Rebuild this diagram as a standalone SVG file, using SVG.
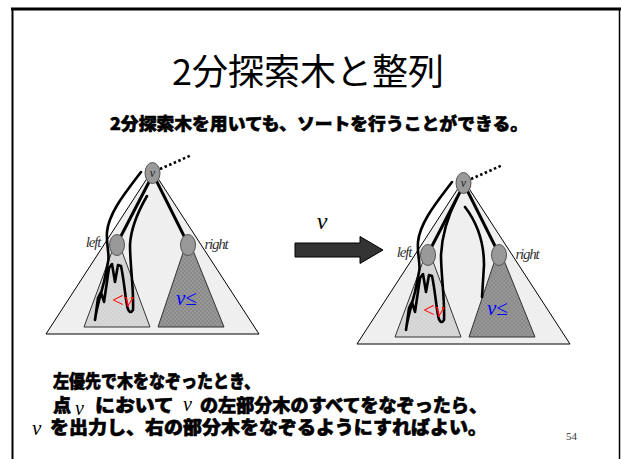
<svg xmlns="http://www.w3.org/2000/svg" width="621" height="459" viewBox="0 0 621 459">
<defs>
<pattern id="chk" width="4" height="4" patternUnits="userSpaceOnUse"><rect width="4" height="4" fill="#8a8a8a"/><rect width="2" height="2" fill="#979797"/><rect x="2" y="2" width="2" height="2" fill="#979797"/></pattern>
<pattern id="chkL" width="4" height="4" patternUnits="userSpaceOnUse"><rect width="4" height="4" fill="#d2d2d2"/><rect width="2" height="2" fill="#d8d8d8"/><rect x="2" y="2" width="2" height="2" fill="#d8d8d8"/></pattern>
<style>
.big{fill:#efefef;stroke:#000;stroke-width:1}
.subL{fill:url(#chkL);stroke:#333;stroke-width:1}
.subR{fill:url(#chk);stroke:#333;stroke-width:1}
.node{fill:#999;stroke:#555;stroke-width:1}
.edge{fill:none;stroke:#000;stroke-width:3;stroke-linecap:round}
.trace{fill:none;stroke:#000;stroke-width:2.6;stroke-linejoin:round;stroke-linecap:round}
.dot{fill:none;stroke:#000;stroke-width:2.5;stroke-dasharray:2.5,2.5}
.math{font-family:"Liberation Serif",serif;font-style:italic}
.lbl{font-family:"Liberation Serif",serif;font-style:italic;font-size:15px;fill:#333;letter-spacing:-1.2px}
.jp{font-family:"Noto Sans CJK JP",sans-serif;font-weight:900;fill:#000;stroke:#000;stroke-width:0.6}
</style>
</defs>
<rect width="621" height="459" fill="#fff"/>
<g id="frame" fill="none" stroke="#000">
<line x1="11" y1="9" x2="621" y2="9" stroke-width="3"/>
<line x1="12.5" y1="8" x2="12.5" y2="459" stroke-width="2"/>
<line x1="619.5" y1="8" x2="619.5" y2="459" stroke-width="1.5"/>
</g>
<text x="308" y="85" font-family="'Noto Sans CJK JP',sans-serif" font-size="36" text-anchor="middle" fill="#000">2分探索木と整列</text>
<text class="jp" x="319" y="130" font-size="17" text-anchor="middle" textLength="418" lengthAdjust="spacingAndGlyphs">2分探索木を用いても、ソートを行うことができる。</text>

<g id="tree-before">
<path class="big" d="M152.5,170 L46,334 L259,334 Z"/>
<path class="subL" d="M117,238 L84,327 L150,327 Z"/>
<path class="subR" d="M188,238 L158,327 L224,327 Z"/>
<g id="traversal-1">
<line class="edge" x1="149" y1="182" x2="121" y2="236"/>
<line class="edge" x1="157" y1="182" x2="184" y2="236"/>
<line class="dot" x1="160" y1="169" x2="192" y2="155"/>
<path class="trace" d="M141,172 C126,192 109,212 107,232 C106,245 110,255 108,262 L104,282 C100,297 96,310 95,320 L98,298 L101,292 L104,302 L109,268 L112,264 L115,282 L118,265 L121,266 C124,280 125,295 127,305 C128,312 131,314 133,310 C134,290 130,265 130,245 C131,225 140,208 147,196"/>
</g>
<g id="node-v1"><ellipse class="node" cx="152.5" cy="173" rx="7.5" ry="10.5"/><text class="math" x="152.5" y="177" font-size="12" text-anchor="middle" fill="#222">v</text></g>
<g id="node-left1"><ellipse class="node" cx="117" cy="245" rx="7.5" ry="10.5"/><text class="lbl" x="93" y="247" text-anchor="middle">left</text></g>
<g id="node-right1"><ellipse class="node" cx="188" cy="245" rx="7.5" ry="10.5"/><text class="lbl" x="216" y="249" text-anchor="middle">right</text></g>
<text x="112" y="307" font-family="'Liberation Serif',serif" font-size="21" fill="#f00">&lt;<tspan font-style="italic">v</tspan></text>
<text x="176" y="305" font-family="'Liberation Serif',serif" font-size="21" fill="#00f"><tspan font-style="italic">v</tspan>≤</text>
</g>

<g id="arrow">
<path d="M295,243 L360,243 L360,236.5 L383,250 L360,263.5 L360,257 L295,257 Z" fill="#333" stroke="#000" stroke-width="1"/>
<text class="math" x="322" y="229" font-size="24" text-anchor="middle" fill="#000">v</text>
</g>

<g id="tree-after" transform="translate(311,10)">
<path class="big" d="M152.5,170 L46,334 L259,334 Z"/>
<path class="subL" d="M117,238 L84,327 L150,327 Z"/>
<path class="subR" d="M188,238 L158,327 L224,327 Z"/>
<g id="traversal-2">
<line class="edge" x1="149" y1="182" x2="121" y2="236"/>
<line class="edge" x1="157" y1="182" x2="184" y2="236"/>
<line class="dot" x1="160" y1="169" x2="192" y2="155"/>
<path class="trace" d="M141,172 C126,192 109,212 107,232 C106,245 110,255 108,262 L104,282 C100,297 96,310 95,320 L98,298 L101,292 L104,302 L109,268 L112,264 L115,282 L118,265 L121,266 C124,280 125,295 127,305 C128,312 131,314 133,310 C134,290 130,265 130,245 C131,222 140,200 146,188"/>
<path class="trace" d="M154,197 C164,210 173,230 173,255 L171,287"/>
</g>
<g id="node-v2"><ellipse class="node" cx="152.5" cy="173" rx="7.5" ry="10.5"/><text class="math" x="152.5" y="177" font-size="12" text-anchor="middle" fill="#222">v</text></g>
<g id="node-left2"><ellipse class="node" cx="117" cy="245" rx="7.5" ry="10.5"/><text class="lbl" x="93" y="247" text-anchor="middle">left</text></g>
<g id="node-right2"><ellipse class="node" cx="188" cy="245" rx="7.5" ry="10.5"/><text class="lbl" x="216" y="249" text-anchor="middle">right</text></g>
<text x="112" y="307" font-family="'Liberation Serif',serif" font-size="21" fill="#f00">&lt;<tspan font-style="italic">v</tspan></text>
<text x="176" y="305" font-family="'Liberation Serif',serif" font-size="21" fill="#00f"><tspan font-style="italic">v</tspan>≤</text>
</g>

<g id="caption">
<text class="jp" x="53" y="388" font-size="18" textLength="207" lengthAdjust="spacingAndGlyphs">左優先で木をなぞったとき、</text>
<text class="jp" x="53" y="412" font-size="18">点</text>
<text class="math" x="75" y="415" font-size="20">v</text>
<text class="jp" x="95" y="412" font-size="18" textLength="79" lengthAdjust="spacingAndGlyphs">において</text>
<text class="math" x="183" y="411" font-size="20">v</text>
<text class="jp" x="200" y="412" font-size="18" textLength="287" lengthAdjust="spacingAndGlyphs">の左部分木のすべてをなぞったら、</text>
<text class="math" x="32" y="435" font-size="21">v</text>
<text class="jp" x="50" y="434" font-size="18" textLength="437" lengthAdjust="spacingAndGlyphs">を出力し、右の部分木をなぞるようにすればよい。</text>
<text x="566" y="440" font-family="'Liberation Serif',serif" font-size="11" fill="#333">54</text>
</g>
</svg>
